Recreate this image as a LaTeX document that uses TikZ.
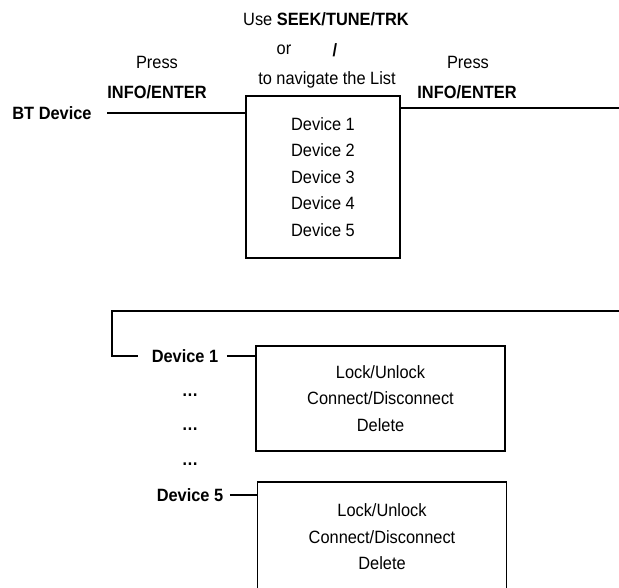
\documentclass[tikz,border=0pt]{standalone}
\usepackage{fontspec}
\setmainfont[FakeStretch=0.92]{Liberation Sans}
\begin{document}
\begin{tikzpicture}[x=1pt, y=-1pt, line width=1.3pt,
  txt/.style={inner sep=0pt, font=\fontsize{17.8}{26.4}\selectfont},
  btxt/.style={txt, font=\fontsize{17.8}{26.4}\selectfont\bfseries},
  listbox/.style={draw, txt, align=center, minimum width=154pt, minimum height=162pt},
  optbox/.style={draw, txt, align=center, minimum width=249pt, minimum height=105pt}]
\useasboundingbox (0,0) rectangle (619,587);

\node[btxt] at (52,113) (bt) {BT Device};
\node[listbox] at (323,177) (list) {Device 1\\Device 2\\Device 3\\Device 4\\Device 5};

\node[txt] at (157,62) (pressL) {Press};
\node[btxt] at (157,92) (infoL) {INFO/ENTER};
\node[txt] at (468,62) (pressR) {Press};
\node[btxt] at (467,92) (infoR) {INFO/ENTER};
\node[txt] at (326,19) (use) {Use \textbf{SEEK/TUNE/TRK}};
\node[txt] at (284,50) (or) {or};
\node[btxt] at (335,50) (slash) {/};
\node[txt] at (327,80) (nav) {to navigate the List};

\coordinate (rend) at (619,108);
\draw ([xshift=15pt]bt.east) -- (bt.east -| list.west);
\draw (list.east |- rend) -- (rend);

\coordinate (topR) at (619,311);
\coordinate (topL) at (112,311);
\node[btxt] at (185,356) (devA) {Device 1};
\node[optbox] at (380.5,398.5) (optA) {Lock/Unlock\\Connect/Disconnect\\Delete};
\node[btxt] at (190,395) (dotA) {\dots};
\node[btxt] at (190,429) (dotB) {\dots};
\node[btxt] at (190,464) (dotC) {\dots};
\node[btxt] at (190,495) (devE) {Device 5};
\node[optbox, minimum height=110pt] at (382,537) (optB) {Lock/Unlock\\Connect/Disconnect\\Delete};

\draw (topR) -- (topL) |- ([xshift=-13pt]devA.west);
\draw ([xshift=8pt]devA.east) -- (devA.east -| optA.west);
\draw ([xshift=6pt]devE.east) -- (devE.east -| optB.west);
\end{tikzpicture}
\end{document}
